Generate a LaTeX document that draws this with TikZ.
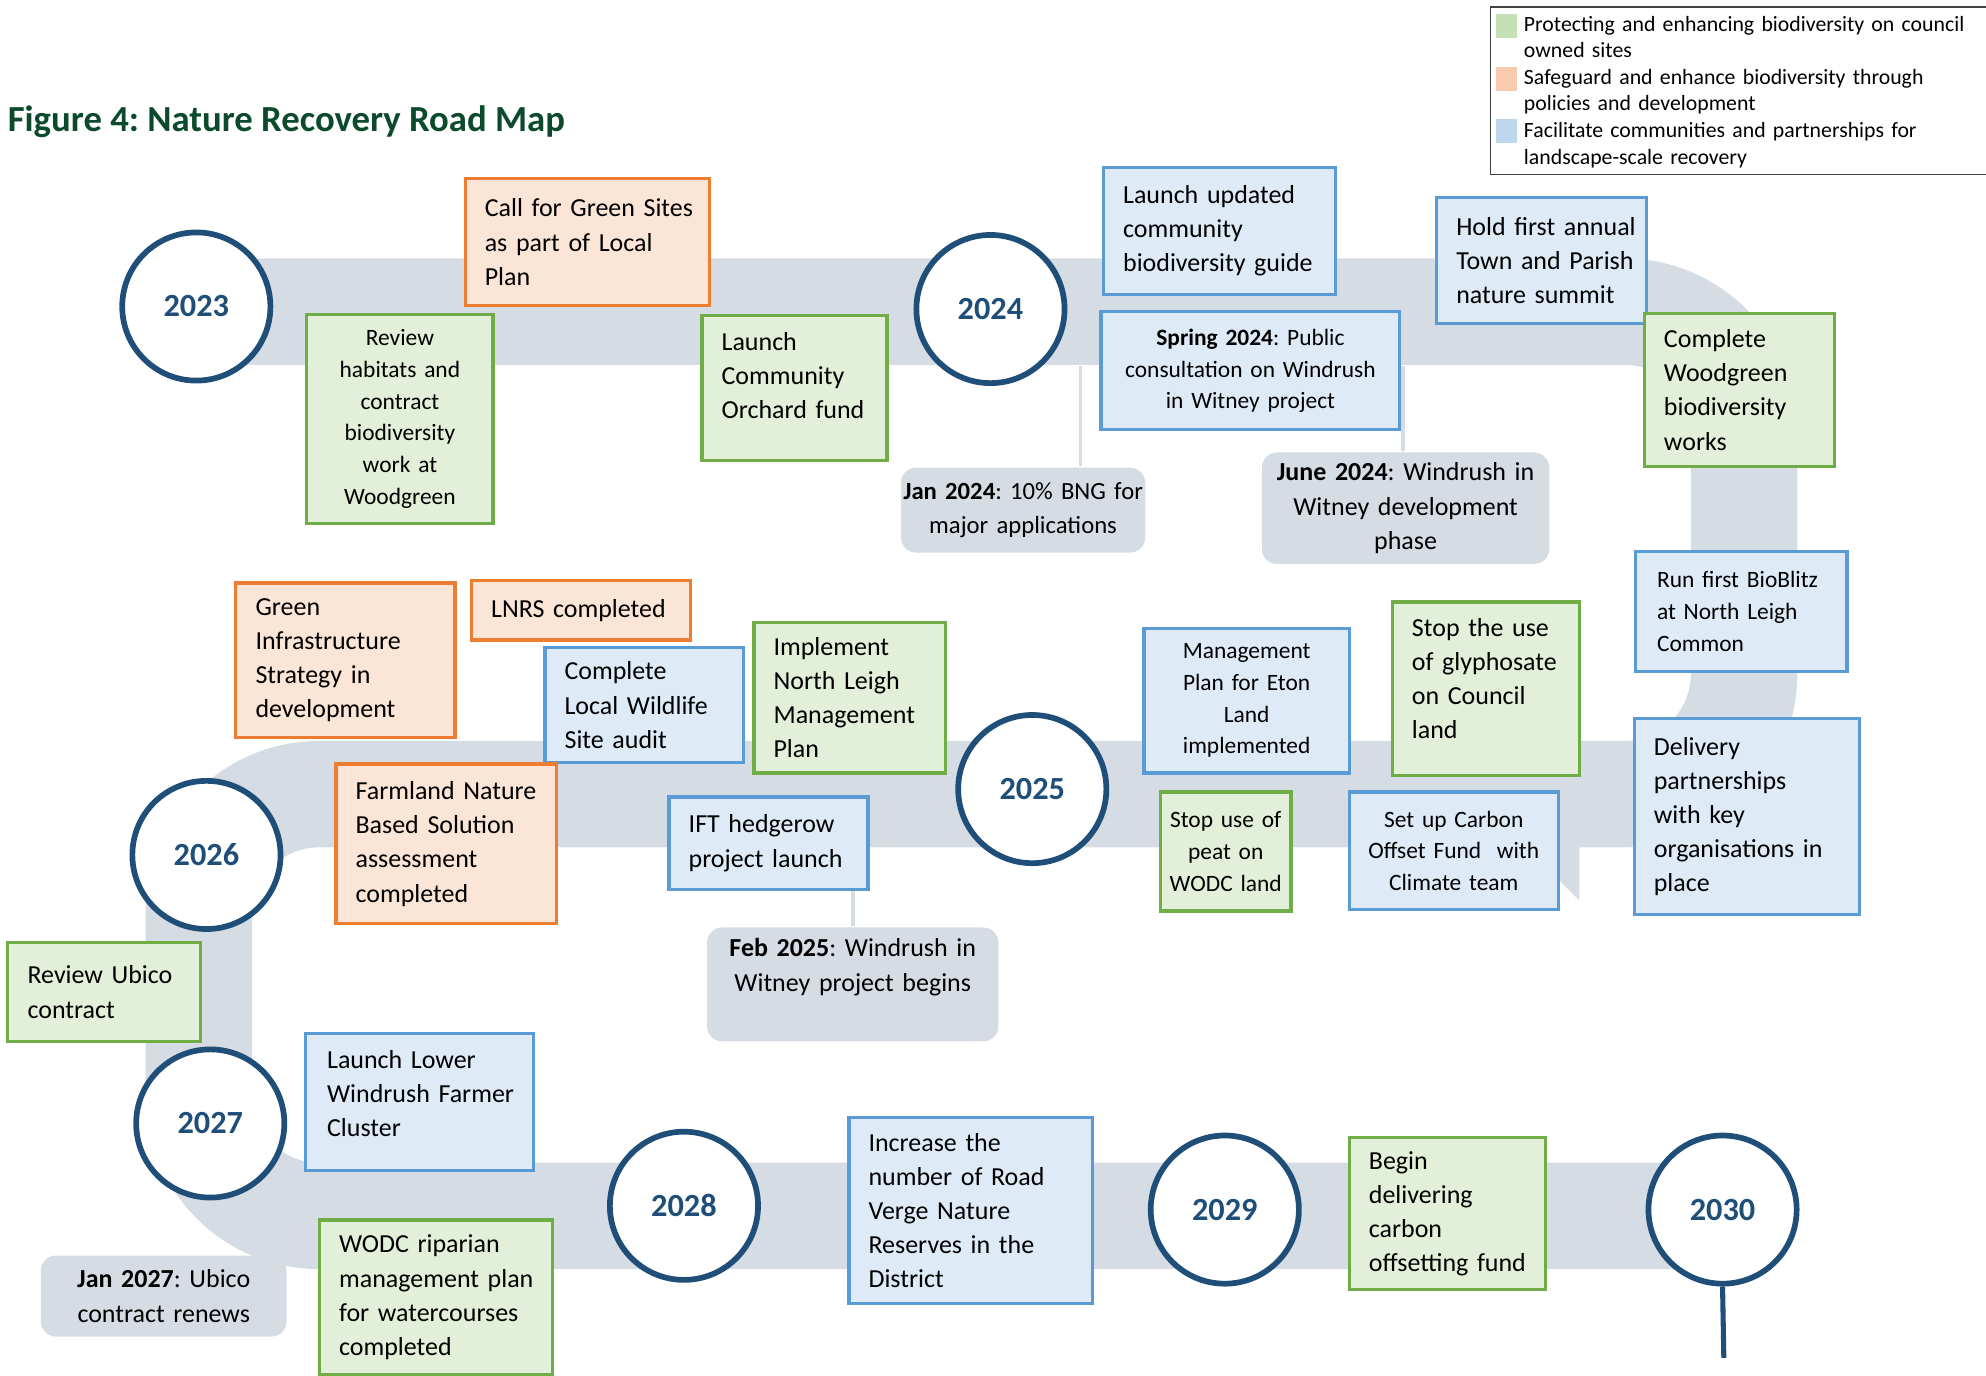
\documentclass[tikz,border=0pt]{standalone}
\usepackage{fontspec}
\setmainfont{Carlito}
\usepackage{tikz}
\usepackage{xcolor}
\usetikzlibrary{positioning,calc}
\frenchspacing

\definecolor{roadgray}{HTML}{D6DCE4}
\definecolor{yearblue}{HTML}{1F4E79}
\definecolor{grnfill}{HTML}{E2F0D9}
\definecolor{grnline}{HTML}{70AD47}
\definecolor{orgfill}{HTML}{FBE5D6}
\definecolor{orgline}{HTML}{ED7D31}
\definecolor{blufill}{HTML}{DEEBF7}
\definecolor{bluline}{HTML}{5B9BD5}
\definecolor{titlegreen}{HTML}{0B4A2A}
\definecolor{keygreen}{HTML}{C5E0B4}
\definecolor{keyorange}{HTML}{F8CBAD}
\definecolor{keyblue}{HTML}{BDD7EE}

% a rule that deepens the last line, so the text sits higher in its box
\newcommand{\lift}[1]{\rule[-#1]{0pt}{#1}}

\tikzset{
    mapbox/.style={draw, line width=2.5pt, anchor=north west, inner xsep=15.5pt, inner ysep=2pt,
        font=\fontsize{20.5}{27}\selectfont, align=left,
        execute at begin node={\rightskip=0pt plus 1fil minus 20pt\relax}},
    centred/.style={align=center, inner xsep=8pt,
        execute at begin node={\leftskip=0pt plus 1fil minus 10pt\rightskip=0pt plus 1fil minus 10pt\relax}},
    smalltext/.style={font=\fontsize{18.5}{25}\selectfont},
    greenbox/.style={mapbox, draw=grnline, fill=grnfill},
    orangebox/.style={mapbox, draw=orgline, fill=orgfill},
    bluebox/.style={mapbox, draw=bluline, fill=blufill},
    milestone/.style={mapbox, draw=none, fill=roadgray, rounded corners=12pt, centred, inner xsep=4pt},
    year/.style={circle, draw=yearblue, line width=4.5pt, fill=white, minimum size=117pt,
        inner sep=0pt, text=yearblue, font=\fontsize{25.5}{30}\selectfont\bfseries},
    road/.style={draw=roadgray, line width=84pt, rounded corners=95pt},
    link/.style={draw=roadgray, line width=3pt},
    stem/.style={draw=yearblue, line width=4pt},
    keyframe/.style={draw=black!75, line width=1pt, anchor=north west, inner sep=0pt},
    keybox/.style={minimum width=17pt, minimum height=19pt, inner sep=0pt},
    keytext/.style={anchor=base west, inner sep=0pt, text width=355pt, align=left,
        font=\fontsize{17.2}{21}\selectfont,
        execute at begin node={\rightskip=0pt plus 1fil minus 20pt\relax}}
}

\begin{document}
\begin{tikzpicture}[x=1pt,y=-1pt]
    \useasboundingbox (0,0) rectangle (1568,1086);

    % Title
    \node[anchor=base west, inner sep=0pt, text=titlegreen, font=\fontsize{29}{35}\selectfont\bfseries]
        (title) at (6,104) {Figure 4: Nature Recovery Road Map};

    % Key
    \node[keyframe, minimum width=400pt, minimum height=132pt] (legend) at (1176,5) {};
    \node[keybox, fill=keygreen] (keyg) at (1189.5,20.5) {};
    \node[keybox, fill=keyorange] (keyo) at (1189.5,62.5) {};
    \node[keybox, fill=keyblue] (keyb) at (1189.5,103.5) {};
    \node[keytext] (keygtext) at (1203,24.5) {Protecting and enhancing biodiversity on council\\owned sites};
    \node[keytext] (keyotext) at (1203,66.5) {Safeguard and enhance biodiversity through\\policies and development};
    \node[keytext] (keybtext) at (1203,108.5) {Facilitate communities and partnerships for\\landscape-scale recovery};

    % Road
    \draw[road] (155,246) -- (1377,246) -- (1377,627) -- (157,627) -- (157,960) -- (1360,960);
    \fill[roadgray] (1247,542) -- (1247,711) -- (1163,627) -- cycle;

    % Years
    \node[year] (y2023) at (155,242) {2023};
    \node[year] (y2024) at (782,244) {2024};
    \node[year] (y2025) at (815,623) {2025};
    \node[year] (y2026) at (163,675) {2026};
    \node[year] (y2027) at (166,887) {2027};
    \node[year] (y2028) at (540,952) {2028};
    \node[year] (y2029) at (967,955) {2029};
    \node[year] (y2030) at (1360,955) {2030};
    \coordinate (stemfoot) at (1361,1072);
    \draw[stem] (y2030.south) -- (stemfoot);

    % 2023 - 2024
    \node[orangebox, text width=162pt, minimum height=100pt] (callsites) at (366,140)
        {Call for Green Sites\\as part of Local\\Plan};
    \node[greenbox, centred, smalltext, text width=131pt, minimum height=165pt] (reviewhab) at (241,247)
        {Review\\habitats and\\contract\\biodiversity\\work at\\Woodgreen};
    \node[greenbox, text width=115pt, minimum height=114pt] (orchard) at (553,248)
        {Launch\\Community\\Orchard fund\lift{20pt}};
    \node[bluebox, text width=152pt, minimum height=100pt] (guide) at (870,131)
        {Launch updated\\community\\biodiversity guide};
    \node[bluebox, centred, smalltext, text width=220pt, minimum height=93pt] (spring) at (868,245)
        {\textbf{Spring 2024}: Public\\consultation on Windrush\\in Witney project};
    \node[bluebox, text width=135pt, minimum height=99pt] (summit) at (1133,155)
        {Hold first annual\\Town and Parish\\nature summit};
    \node[greenbox, text width=119pt, minimum height=121pt] (woodgreen) at (1297,246)
        {Complete\\Woodgreen\\biodiversity\\works};
    \node[milestone, inner xsep=0pt, text width=193pt, minimum height=67pt,
        font=\fontsize{19.5}{27}\selectfont] (janbng) at (710,368)
        {\textbf{Jan 2024}: 10\% BNG for\\major applications};
    \node[milestone, text width=219pt, minimum height=88pt] (junewit) at (995,356)
        {\textbf{June 2024}: Windrush in\\Witney development\\phase};

    % 2025 - 2026
    \node[orangebox, text width=142pt, minimum height=122pt] (greeninfra) at (185,459)
        {Green\\Infrastructure\\Strategy in\\development};
    \node[orangebox, text width=142pt, minimum height=47pt] (lnrs) at (371,457)
        {LNRS completed};
    \node[bluebox, text width=126pt, minimum height=91pt] (wildlife) at (429,510)
        {Complete\\Local Wildlife\\Site audit};
    \node[greenbox, text width=120pt, minimum height=119pt] (northleigh) at (594,490)
        {Implement\\North Leigh\\Management\\Plan};
    \node[orangebox, text width=143pt, minimum height=126pt] (farmland) at (264,602)
        {Farmland Nature\\Based Solution\\assessment\\completed};
    \node[bluebox, text width=126pt, minimum height=73pt] (hedgerow) at (527,628)
        {IFT hedgerow\\project launch};
    \node[milestone, text width=222pt, minimum height=90pt] (febwit) at (557,731)
        {\textbf{Feb 2025}: Windrush in\\Witney project begins\lift{31pt}};
    \node[bluebox, centred, smalltext, text width=146pt, minimum height=114pt] (eton) at (902,495)
        {Management\\Plan for Eton\\Land\\implemented};
    \node[greenbox, text width=117pt, minimum height=137pt] (glyphosate) at (1098,474)
        {Stop the use\\of glyphosate\\on Council\\land\lift{16pt}};
    \node[greenbox, centred, smalltext, text width=87pt, minimum height=94pt] (peat) at (915,624)
        {Stop use of\\peat on\\WODC land};
    \node[bluebox, centred, smalltext, text width=149pt, minimum height=93pt] (carbonfund) at (1064,624)
        {Set up Carbon\\Offset Fund~ with\\Climate team};
    \node[bluebox, smalltext, inner xsep=17pt, text width=133pt, minimum height=95pt] (bioblitz) at (1290,434)
        {Run first BioBlitz\\at North Leigh\\Common};
    \node[bluebox, text width=147pt, minimum height=155pt] (partners) at (1289,566)
        {Delivery\\partnerships\\with key\\organisations in\\place};

    % 2027 - 2030
    \node[greenbox, text width=121pt, minimum height=78pt] (ubico) at (5,743)
        {Review Ubico\\contract};
    \node[bluebox, inner xsep=17pt, text width=146pt, minimum height=108pt] (farmercluster) at (240,815)
        {Launch Lower\\Windrush Farmer\\Cluster\lift{14pt}};
    \node[milestone, text width=186pt, minimum height=64pt] (ubicorenew) at (31,990)
        {\textbf{Jan 2027}: Ubico\\contract renews};
    \node[greenbox, text width=153pt, minimum height=122pt] (riparian) at (251,962)
        {WODC riparian\\management plan\\for watercourses\\completed};
    \node[bluebox, text width=161pt, minimum height=147pt] (roadverge) at (669,881)
        {Increase the\\number of Road\\Verge Nature\\Reserves in the\\District};
    \node[greenbox, text width=124pt, minimum height=120pt] (offsetfund) at (1064,897)
        {Begin\\delivering\\carbon\\offsetting fund};

    % Milestone links
    \coordinate (bandjan) at (853,289);
    \coordinate (bandjune) at (1108,289);
    \draw[link] (bandjan) -- (bandjan |- janbng.north);
    \draw[link] (bandjune) -- (bandjune |- junewit.north);
    \draw[link] (hedgerow.south -| febwit.north) -- (febwit.north);
\end{tikzpicture}
\end{document}
